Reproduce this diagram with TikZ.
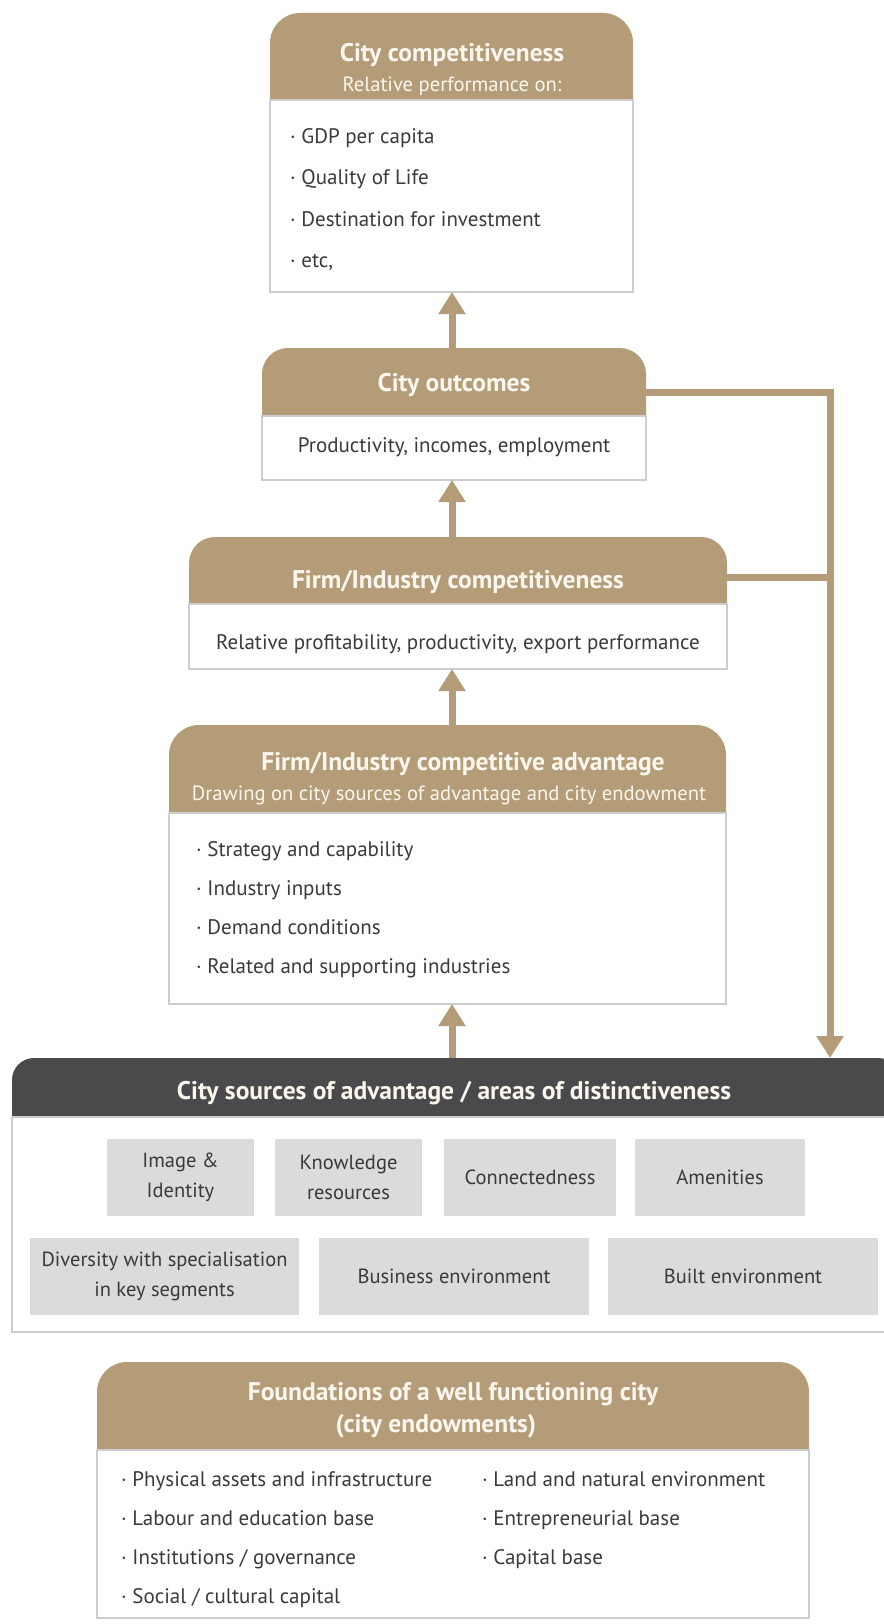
\documentclass[tikz,border=0pt]{standalone}
\usepackage{fontspec}
\setmainfont{PT Sans}
\usetikzlibrary{arrows.meta,backgrounds}
\definecolor{tanc}{RGB}{180,156,120}
\definecolor{darkc}{RGB}{74,74,76}
\definecolor{boxc}{RGB}{218,219,221}
\definecolor{bordc}{RGB}{205,205,205}
\definecolor{headtxt}{RGB}{252,247,238}
\definecolor{txtc}{RGB}{58,58,58}
\tikzset{
	cardhead/.style={inner sep=0pt, outer sep=0pt},
	cardbody/.style={draw=bordc, line width=1.2pt, fill=white, inner sep=0pt, outer sep=0pt},
	htitle/.style={text=headtxt, align=center, font=\bfseries\fontsize{25.5}{32}\selectfont},
	hsub/.style={text=headtxt, font=\fontsize{20.6}{24}\selectfont},
	item/.style={text=txtc, anchor=base west, inner sep=0pt, font=\fontsize{21}{24}\selectfont},
	srcbox/.style={fill=boxc, text=txtc, align=center, inner sep=0pt,
		minimum height=77pt, font=\fontsize{20.5}{30}\selectfont},
	uparr/.style={draw=tanc, line width=7pt, -{Triangle[width=26pt,length=22pt]}},
	fbline/.style={draw=tanc, line width=7pt}
}

\begin{document}
\begin{tikzpicture}[x=1pt,y=-1pt]
	\useasboundingbox (0,0) rectangle (883,1624);
	\coordinate (ax) at (452,0);
	\coordinate (fb) at (830,1058);
	
	% city competitiveness
	\node[cardhead, minimum width=363pt, minimum height=87pt] (compHead) at (451.5,56.5) {};
	\node[cardbody, minimum width=363pt, minimum height=192pt] (compBody) at (451.5,196) {};
	\node[htitle] (compT) at (452,55) {City competitiveness};
	\node[hsub] (compS) at (452,86) {Relative performance on:};
	\foreach \t [count=\i] in {GDP per capita, Quality of Life, Destination for investment, {etc,}}
		\node[item] (compI\i) at (290,{144+41*(\i-1)}) {· \t};
	
	% city outcomes
	\node[cardhead, minimum width=384pt, minimum height=68pt] (outHead) at (454,382) {};
	\node[cardbody, minimum width=384pt, minimum height=64pt] (outBody) at (454,448) {};
	\node[htitle] (outT) at (454,385) {City outcomes};
	\node[item, anchor=base] (outI) at (454,452) {Productivity, incomes, employment};
	
	% firm/industry competitiveness
	\node[cardhead, minimum width=538pt, minimum height=67pt] (firmHead) at (458,570.5) {};
	\node[cardbody, minimum width=538pt, minimum height=65pt] (firmBody) at (458,636.5) {};
	\node[htitle] (firmT) at (458,582) {Firm/Industry competitiveness};
	\node[item, anchor=base] (firmI) at (458,649) {Relative profitability, productivity, export performance};
	
	% firm/industry competitive advantage
	\node[cardhead, minimum width=557pt, minimum height=88pt] (advHead) at (447.5,769) {};
	\node[cardbody, minimum width=557pt, minimum height=191pt] (advBody) at (447.5,908.5) {};
	\node[htitle] (advT) at (463,764) {Firm/Industry competitive advantage};
	\node[hsub] (advS) at (449,795) {Drawing on city sources of advantage and city endowment};
	\foreach \t [count=\i] in {Strategy and capability, Industry inputs, Demand conditions, Related and supporting industries}
		\node[item] (advI\i) at (196,{856+39.3*(\i-1)}) {· \t};
	
	% city sources of advantage
	\node[cardhead, minimum width=888pt, minimum height=59pt] (band) at (456,1087.5) {};
	\node[cardbody, minimum width=888pt, minimum height=215pt] (src) at (456,1224.5) {};
	\node[htitle, font=\bfseries\fontsize{25.5}{30}\selectfont] (bandT) at (454,1093) {City sources of advantage / areas of distinctiveness};
	\foreach \n/\x/\y/\w/\t in {img/180.5/1177.5/147/{Image \&\\ Identity},
		know/348.5/1177.5/147/{Knowledge\\ resources},
		conn/530/1177.5/172/Connectedness,
		amen/720/1177.5/170/Amenities,
		div/164.5/1276.5/269/{Diversity with specialisation\\ in key segments},
		bus/454/1276.5/270/Business environment,
		built/743/1276.5/270/Built environment}
		\node[srcbox, minimum width=\w pt] (\n) at (\x,\y) {\t};
	
	% foundations
	\node[cardhead, minimum width=712pt, minimum height=88pt] (fndHead) at (453,1406) {};
	\node[cardbody, minimum width=712pt, minimum height=168pt] (fndBody) at (453,1534) {};
	\node[htitle] (fndT) at (453,1410) {Foundations of a well functioning city\\ (city endowments)\hspace*{34pt}};
	\foreach \t [count=\i] in {Physical assets and infrastructure, Labour and education base, Institutions / governance, Social / cultural capital}
		\node[item] (fndL\i) at (121,{1486+39.3*(\i-1)}) {· \t};
	\foreach \t [count=\i] in {Land and natural environment, Entrepreneurial base, Capital base}
		\node[item] (fndR\i) at (482,{1486+39.3*(\i-1)}) {· \t};
	
	% header fills
	\begin{scope}[on background layer]
		\foreach \n/\r in {compHead/30pt, outHead/26pt, firmHead/26pt, advHead/30pt, fndHead/30pt}
			\fill[tanc] (\n.south west) [rounded corners=\r] -- (\n.north west) -- (\n.north east) [sharp corners] -- (\n.south east) -- cycle;
		\fill[darkc] (band.south west) [rounded corners=22pt] -- (band.north west) -- (band.north east) [sharp corners] -- (band.south east) -- cycle;
	\end{scope}
	
	% arrows
	\draw[uparr] (outHead.north -| ax) -- (compBody.south -| ax);
	\draw[uparr] (firmHead.north -| ax) -- (outBody.south -| ax);
	\draw[uparr] (advHead.north -| ax) -- (firmBody.south -| ax);
	\draw[uparr] (band.north -| ax) -- (advBody.south -| ax);
	\coordinate (outJ) at ([yshift=-10pt]outHead.east);
	\coordinate (firmJ) at ([yshift=-7pt]firmHead.east);
	\draw[uparr] (outJ) -| (fb);
	\draw[fbline] (firmJ) -- (firmJ -| fb);
\end{tikzpicture}
\end{document}
